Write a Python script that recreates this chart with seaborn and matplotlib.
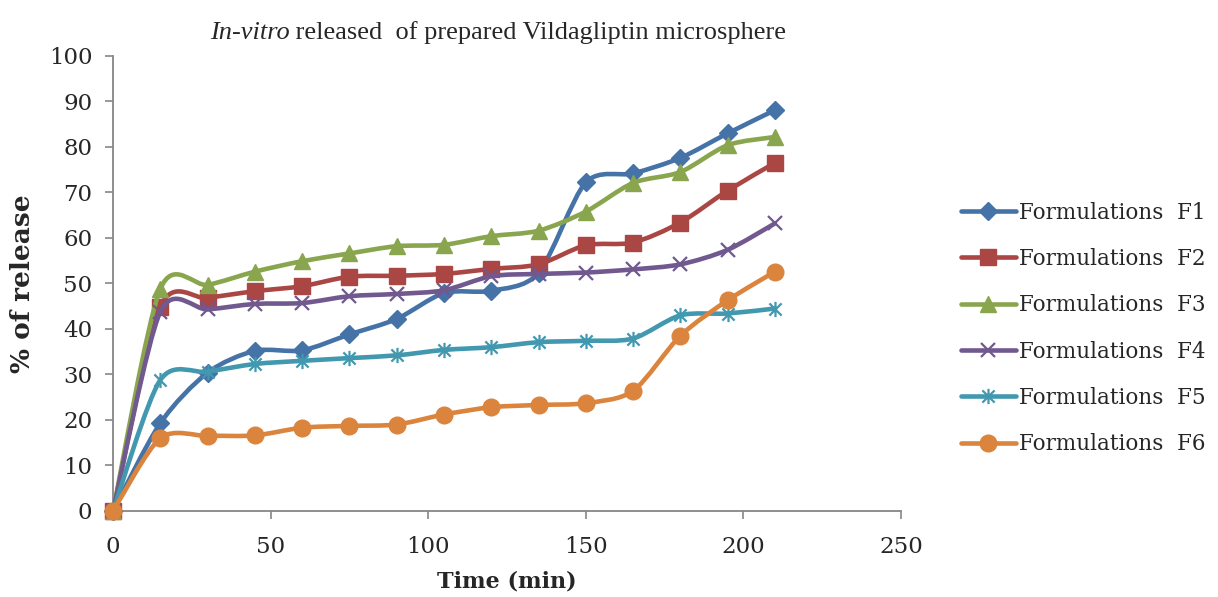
import numpy as np
import pandas as pd
import matplotlib
matplotlib.use("Agg")
import matplotlib.pyplot as plt
import seaborn as sns
from matplotlib.path import Path
from matplotlib.patches import PathPatch
from matplotlib.lines import Line2D

# ---- data ----
time_min = [0, 15, 30, 45, 60, 75, 90, 105, 120, 135, 150, 165, 180, 195, 210]
f1 = [0, 19.3, 30.4, 35.2, 35.3, 38.8, 42.2, 47.9, 48.4, 52.3, 72.2, 74.2, 77.6, 83.0, 88.1]
f2 = [0, 44.9, 46.8, 48.3, 49.4, 51.5, 51.7, 52.1, 53.2, 54.2, 58.4, 59.0, 63.4, 70.4, 76.5]
f3 = [0, 48.8, 49.7, 52.6, 54.9, 56.6, 58.2, 58.5, 60.4, 61.6, 65.8, 72.1, 74.5, 80.4, 82.2]
f4 = [0, 43.8, 44.3, 45.5, 45.7, 47.2, 47.7, 48.5, 51.6, 52.1, 52.4, 53.1, 54.2, 57.4, 63.2]
f5 = [0, 28.8, 30.6, 32.3, 33.0, 33.6, 34.2, 35.4, 36.0, 37.1, 37.4, 37.9, 43.0, 43.4, 44.5]
f6 = [0, 16.0, 16.5, 16.6, 18.3, 18.7, 19.0, 21.2, 22.8, 23.3, 23.7, 26.4, 38.5, 46.3, 52.6]
series_labels = ["Formulations  F1", "Formulations  F2", "Formulations  F3",
                 "Formulations  F4", "Formulations  F5", "Formulations  F6"]
series_values = [f1, f2, f3, f4, f5, f6]
x_ticks = [0, 50, 100, 150, 200, 250]
y_ticks = [0, 10, 20, 30, 40, 50, 60, 70, 80, 90, 100]
title_italic = "In-vitro"
title_rest = " released  of prepared Vildagliptin microsphere"
x_label = "Time (min)"
y_label = "% of release"

# ---- styles ----
colors = ["#4572A7", "#AA4643", "#89A54E", "#71588F", "#4198AF", "#DB843D"]
star = Path([(0, -1), (0, 1), (-0.8, -0.8), (0.8, 0.8), (-0.8, 0.8), (0.8, -0.8)],
            [Path.MOVETO, Path.LINETO, Path.MOVETO, Path.LINETO, Path.MOVETO, Path.LINETO])
markers = ["D", "s", "^", "x", star, "o"]
msizes = [9.5, 11, 11, 10, 11, 12]
mews = [1, 1, 1, 1.6, 1.6, 1]

sns.set_style("white")
plt.rcParams["font.family"] = ["DejaVu Serif"]

fig = plt.figure(figsize=(12.18, 5.97), dpi=100)
ax = fig.add_axes([0.0928, 0.1441, 0.7397 - 0.0928, 0.9062 - 0.1441])

df = pd.DataFrame({"time": time_min})
for lab, vals in zip(series_labels, series_values):
    df[lab] = vals


def smooth_path(xs, ys, t=0.14):
    pts = np.column_stack([xs, ys]).astype(float)
    n = len(pts)
    verts = [pts[0]]
    codes = [Path.MOVETO]
    for i in range(n - 1):
        p_prev = pts[i - 1] if i > 0 else pts[i]
        p0 = pts[i]
        p1 = pts[i + 1]
        p_next = pts[i + 2] if i + 2 < n else pts[i + 1]
        c1 = p0 + (p1 - p_prev) * t
        c2 = p1 - (p_next - p0) * t
        verts += [c1, c2, p1]
        codes += [Path.CURVE4] * 3
    return Path(verts, codes)


handles = []
for i, lab in enumerate(series_labels):
    col = colors[i]
    patch = PathPatch(smooth_path(df["time"], df[lab]), facecolor="none",
                      edgecolor=col, lw=3.3, zorder=2 + 2 * i, capstyle="round",
                      joinstyle="round")
    ax.add_patch(patch)
    sns.lineplot(data=df, x="time", y=lab, ax=ax, color=col, linestyle="none",
                 marker=markers[i], markersize=msizes[i], markeredgecolor=col,
                 markerfacecolor=col, markeredgewidth=mews[i], zorder=3 + 2 * i,
                 clip_on=False)
    handles.append(Line2D([], [], color=col, lw=3.3, marker=markers[i],
                          markersize=msizes[i], markeredgecolor=col,
                          markerfacecolor=col, markeredgewidth=mews[i],
                          solid_capstyle="round"))

ax.set_xlim(0, 250)
ax.set_ylim(0, 100)
ax.set_xticks(x_ticks)
ax.set_yticks(y_ticks)
ax.tick_params(axis="both", labelsize=16.5, direction="out", length=6, width=1.2,
               color="#868686", left=True, bottom=True)
ax.tick_params(axis="x", pad=12)
ax.tick_params(axis="y", pad=9)
for s in ["top", "right"]:
    ax.spines[s].set_visible(False)
for s in ["left", "bottom"]:
    ax.spines[s].set_color("#868686")
    ax.spines[s].set_linewidth(1.3)
ax.set_xlabel(x_label, fontsize=16, fontweight="bold", labelpad=9)
ax.set_ylabel(y_label, fontsize=19, fontweight="bold", labelpad=10)
ax.grid(False)

leg = fig.legend(handles, series_labels, loc="center left",
                 bbox_to_anchor=(0.789, 0.45), frameon=False, fontsize=15.5,
                 handlelength=2.55, handletextpad=0.15, labelspacing=1.13,
                 borderpad=0, borderaxespad=0)

# title with italic part
t1 = fig.text(0.17, 0.937, title_italic, fontsize=19, style="italic",
              family=["Liberation Serif"], va="baseline", ha="left")
t2 = fig.text(0, 0, title_rest, fontsize=19, family=["Liberation Serif"],
              va="baseline", ha="left")
fig.canvas.draw()
r = fig.canvas.get_renderer()
bb1 = t1.get_window_extent(r)
bb2 = t2.get_window_extent(r)
total = bb1.width + bb2.width
center_px = 498
x0 = center_px - total / 2
t1.set_x(x0 / fig.bbox.width)
t2.set_x((x0 + bb1.width) / fig.bbox.width)
t1.set_y(0.935)
t2.set_y(0.935)

fig.savefig("out.png", dpi=100)
